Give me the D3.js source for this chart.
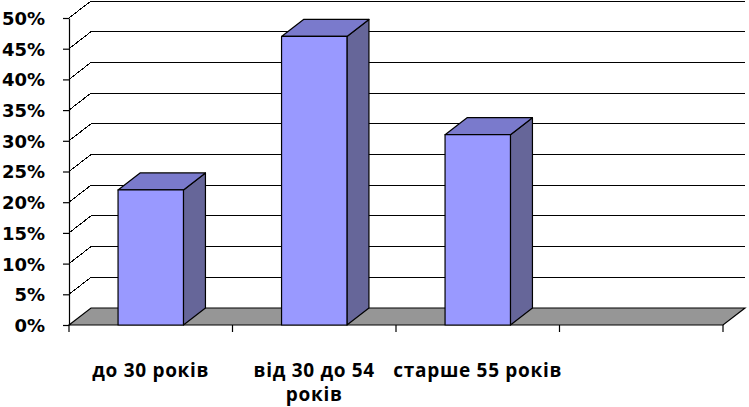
<!DOCTYPE html>
<html><head><meta charset="utf-8">
<script src="https://cdn.jsdelivr.net/npm/d3@7"></script>
<style>
html,body{margin:0;padding:0;background:#fff;}
svg{display:block;}
</style></head>
<body>
<svg id="chart" width="749" height="407"></svg>
<script>
const categories = ["до 30 років", "від 30 до 54\nроків", "старше 55 років", ""];
const values = [0.22, 0.47, 0.31, null];
const yTicks = [0, 0.05, 0.10, 0.15, 0.20, 0.25, 0.30, 0.35, 0.40, 0.45, 0.50];

(function () {
const svg = d3.select("#chart");
const pLeft = 69, pRight = 723, pBottom = 325, pTop = 18;
const dx = 22, dy = -17;

const x = d3.scaleBand().domain(d3.range(categories.length)).range([pLeft, pRight]).paddingInner(0.6).paddingOuter(0.3);
const y = d3.scaleLinear().domain([0, 0.5]).range([pBottom, pTop]);

// back wall gridlines
const grid = svg.append("g");
yTicks.filter(t => t > 0).forEach(t => {
  const yy = y(t);
  grid.append("path")
    .attr("d", `M${pLeft},${yy}L${pLeft+dx},${yy+dy}L${pRight+dx},${yy+dy}`)
    .attr("fill", "none").attr("stroke", "#000").attr("stroke-width", 1)
    .attr("shape-rendering", "crispEdges");
});

// floor
const y0 = y(0);
svg.append("path")
  .attr("d", `M${pLeft},${y0}L${pLeft+dx},${y0+dy}L${pRight+dx},${y0+dy}L${pRight},${y0}Z`)
  .attr("fill", "#969696").attr("stroke", "#000").attr("stroke-width", 1.2);

// bars
const bars = svg.append("g");
values.forEach((v, i) => {
  if (v == null) return;
  const x0 = x(i), x1 = x(i) + x.bandwidth();
  const yt = y(v);
  const g = bars.append("g").attr("stroke", "#000").attr("stroke-width", 1.2).attr("stroke-linejoin", "round");
  g.append("path").attr("fill", "#666699")
    .attr("d", `M${x1},${y0}L${x1+dx},${y0+dy}L${x1+dx},${yt+dy}L${x1},${yt}Z`);
  g.append("path").attr("fill", "#7A7ACC")
    .attr("d", `M${x0},${yt}L${x0+dx},${yt+dy}L${x1+dx},${yt+dy}L${x1},${yt}Z`);
  g.append("rect").attr("fill", "#9999FF")
    .attr("x", x0).attr("y", yt).attr("width", x1 - x0).attr("height", y0 - yt);
});

// left axis
const yAxis = d3.axisLeft(y).tickValues(yTicks).tickFormat(d3.format(".0%")).tickSize(6).tickSizeOuter(0).tickPadding(18);
const ga = svg.append("g").attr("transform", `translate(${pLeft},0)`).call(yAxis);
ga.selectAll("path,line").attr("stroke", "#000").attr("stroke-width", 1.2);
ga.selectAll("text").attr("font-family", "DejaVu Sans").attr("font-weight", "bold").attr("font-size", 18).attr("fill", "#000").attr("dy", "0.36em");

// bottom ticks at band edges
const edges = d3.range(categories.length + 1).map(i => pLeft + i * x.step());
svg.append("g").selectAll("line").data(edges).join("line")
  .attr("x1", d => d).attr("x2", d => d).attr("y1", y0).attr("y2", y0 + 7)
  .attr("stroke", "#000").attr("stroke-width", 1.2);

// category labels
const lab = svg.append("g").attr("font-family", "Open Sans").attr("font-weight", "bold").attr("font-size", 19).attr("letter-spacing", "0.7px").attr("fill", "#000").attr("text-anchor", "middle");
categories.forEach((c, i) => {
  if (!c) return;
  const cx = x(i) + x.bandwidth() / 2;
  const t = lab.append("text");
  c.split("\n").forEach((line, k) => {
    t.append("tspan").attr("x", cx).attr("y", 377 + k * 24).text(line);
  });
});
})();
</script>
</body></html>
